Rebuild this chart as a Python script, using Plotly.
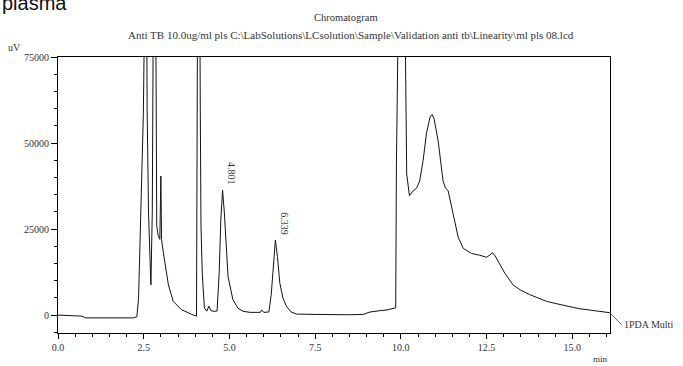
import plotly.graph_objects as go

# ---- data ----
time_min = [0.0, 0.3, 0.6, 0.7, 0.8, 1.5, 2.2, 2.3, 2.35, 2.39, 2.44, 2.49, 2.55, 2.58,
            2.60, 2.64, 2.71, 2.75, 2.78, 2.82, 2.86, 2.88, 2.92, 2.97, 3.0, 3.02, 3.07,
            3.12, 3.22, 3.36, 3.6, 3.9, 4.04, 4.07, 4.11, 4.15, 4.17, 4.21, 4.27, 4.34,
            4.40, 4.46, 4.55, 4.64, 4.70, 4.75, 4.80, 4.85, 4.90, 4.96, 5.1, 5.25, 5.4,
            5.6, 5.9, 5.94, 6.0, 6.15, 6.22, 6.28, 6.34, 6.40, 6.47, 6.56, 6.66, 6.8,
            6.96, 7.5, 8.0, 8.5, 8.9, 9.1, 9.4, 9.6, 9.8, 9.85, 9.87, 9.9, 10.0, 10.09,
            10.17, 10.25, 10.35, 10.46, 10.55, 10.65, 10.75, 10.85, 10.91, 10.97, 11.09,
            11.23, 11.30, 11.38, 11.52, 11.67, 11.82, 12.06, 12.3, 12.5, 12.6, 12.67,
            12.75, 12.84, 13.03, 13.27, 13.5, 13.76, 14.0, 14.25, 14.5, 14.73, 15.0,
            15.22, 15.5, 15.7, 15.9, 16.09]
signal_uv = [0, -50, -100, -300, -800, -850, -800, -500, 5000, 20300, 39600, 58600, 110000, 105000,
             60000, 29900, 8800, 30000, 90000, 120000, 70000, 26000, 23200, 22000, 40400, 22000, 18400,
             15500, 8800, 4000, 1600, 200, -300, 90000, 150000, 60000, 26000, 11700, 2100, 1150,
             2600, 1300, 1100, 1200, 12000, 28000, 36300, 30000, 20000, 11200, 4500, 2000, 1100,
             800, 800, 1500, 800, 900, 6000, 15000, 21800, 17000, 9300, 5000, 2600, 900,
             300, 200, 100, 100, 200, 900, 1300, 1500, 2000, 2100, 43000, 100000, 150000, 120000,
             41000, 34700, 36000, 36900, 39000, 45000, 53000, 57500, 58300, 57000, 50500,
             39000, 37000, 36100, 29400, 22700, 19400, 17900, 17400, 16800, 17500, 18100,
             17200, 15500, 12200, 8800, 7200, 5950, 4900, 4000, 3400, 2800, 2300,
             1840, 1450, 1150, 950, 700]

peak_times = [4.801, 6.339]
peak_heights = [36300, 21800]
peak_labels = ["4.801", "6.339"]

x_tick_vals = [0.0, 2.5, 5.0, 7.5, 10.0, 12.5, 15.0]
x_tick_text = ["0.0", "2.5", "5.0", "7.5", "10.0", "12.5", "15.0"]
y_tick_vals = [0, 25000, 50000, 75000]
y_tick_text = ["0", "25000", "50000", "75000"]

title_text = "Chromatogram"
subtitle_text = ("Anti TB 10.0ug/ml pls C:\\LabSolutions\\LCsolution\\Sample\\Validation anti tb"
                 "\\Linearity\\ml pls 08.lcd")
trace_label = "1PDA Multi"

# ---- figure ----
W, H = 683, 366
ML, MR, MT, MB = 58, 73, 57, 33
PW, PH = W - ML - MR, H - MT - MB

def px(x):
    return (x - ML) / PW

def py(y):
    return (H - MB - y) / PH

SERIF = "Liberation Serif, Times New Roman, serif"
TXT = "#333333"

fig = go.Figure()
fig.add_trace(go.Scatter(x=time_min, y=signal_uv, mode="lines",
                         line=dict(color="#111111", width=1), hoverinfo="skip",
                         showlegend=False))

ann = []
for t, h, lab in zip(peak_times, peak_heights, peak_labels):
    ann.append(dict(x=t, y=h, text=lab, showarrow=False, textangle=90,
                    xanchor="center", yanchor="bottom", xshift=9, yshift=3,
                    font=dict(family=SERIF, size=10, color=TXT)))

ann.append(dict(x=time_min[-1], y=signal_uv[-1], text=trace_label, showarrow=True,
                arrowhead=0, arrowwidth=0.8, arrowcolor="#444444", ax=12, ay=12,
                xanchor="left", yanchor="middle",
                font=dict(family=SERIF, size=10, color=TXT)))

ann.append(dict(xref="paper", yref="paper", x=px(346), y=py(17), text=title_text,
                showarrow=False, xanchor="center", yanchor="middle",
                font=dict(family=SERIF, size=10.5, color=TXT)))
ann.append(dict(xref="paper", yref="paper", x=px(351), y=py(35), text=subtitle_text,
                showarrow=False, xanchor="center", yanchor="middle",
                font=dict(family=SERIF, size=11, color=TXT)))
ann.append(dict(xref="paper", yref="paper", x=px(14), y=py(47), text="uV",
                showarrow=False, xanchor="center", yanchor="middle",
                font=dict(family=SERIF, size=10, color=TXT)))
ann.append(dict(xref="paper", yref="paper", x=px(600), y=py(359), text="min",
                showarrow=False, xanchor="center", yanchor="middle",
                font=dict(family=SERIF, size=9, color=TXT)))
ann.append(dict(xref="paper", yref="paper", x=px(0), y=py(3), text="plasma",
                showarrow=False, xanchor="left", yanchor="middle",
                font=dict(family="Liberation Sans, Arial, sans-serif", size=20, color="#111111")))

fig.update_layout(
    width=W, height=H,
    margin=dict(l=ML, r=MR, t=MT, b=MB, pad=0),
    paper_bgcolor="white", plot_bgcolor="white",
    showlegend=False,
    annotations=ann,
    xaxis=dict(range=[0, 16.1], tickvals=x_tick_vals, ticktext=x_tick_text,
               showline=True, linecolor="black", linewidth=1, mirror=True,
               ticks="outside", ticklen=5, tickcolor="black", tickwidth=1,
               showgrid=False, zeroline=False,
               tickfont=dict(family=SERIF, size=10, color=TXT),
               minor=dict(dtick=0.5, tick0=0, ticks="outside", ticklen=3,
                          tickcolor="black", showgrid=False)),
    yaxis=dict(range=[-5200, 75000], tickvals=y_tick_vals, ticktext=y_tick_text,
               showline=True, linecolor="black", linewidth=1, mirror=True,
               ticks="outside", ticklen=6, tickcolor="black", tickwidth=1,
               showgrid=False, zeroline=False,
               tickfont=dict(family=SERIF, size=10, color=TXT),
               minor=dict(dtick=5000, tick0=0, ticks="outside", ticklen=3,
                          tickcolor="black", showgrid=False)),
)

fig.write_html("out.html", config={"displayModeBar": False},
               post_script="document.body.style.margin='0';document.body.style.padding='0';")
